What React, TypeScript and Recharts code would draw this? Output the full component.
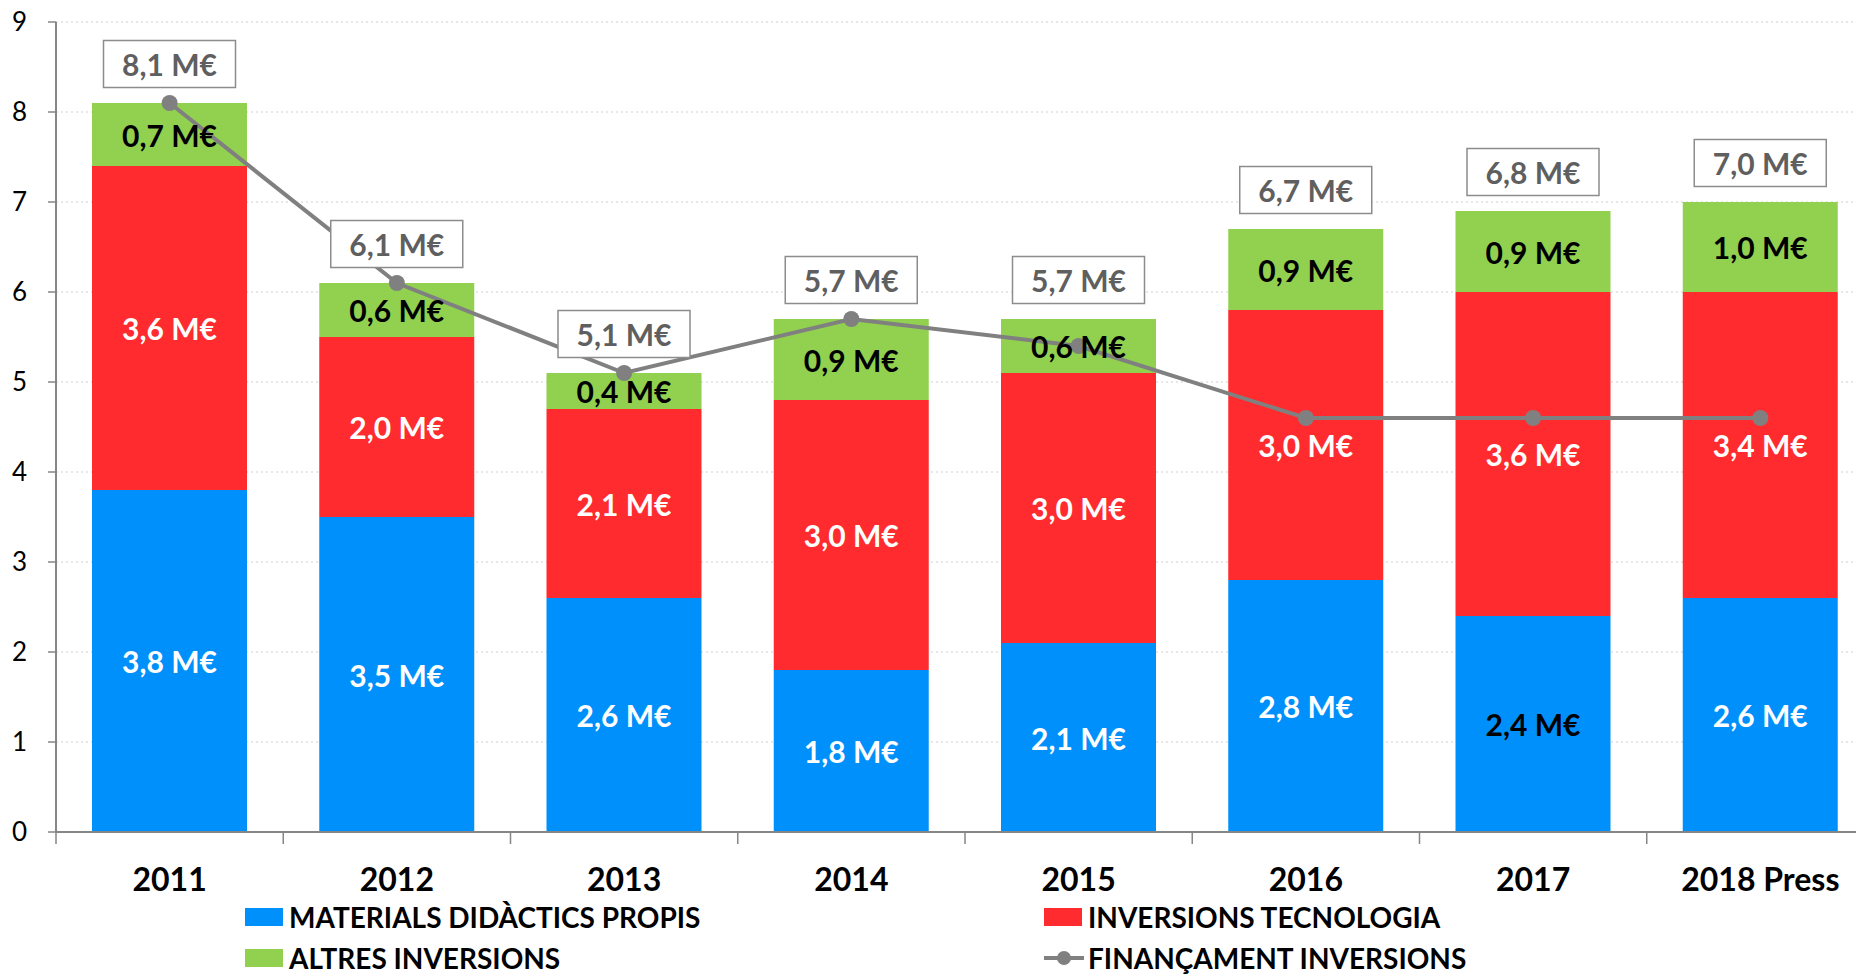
import {
  ComposedChart, Bar, Line, XAxis, YAxis, CartesianGrid, Legend, LabelList,
} from "recharts";

const years = ["2011", "2012", "2013", "2014", "2015", "2016", "2017", "2018 Press"];
const materials = [3.8, 3.5, 2.6, 1.8, 2.1, 2.8, 2.4, 2.6];
const tecnologia = [3.6, 2.0, 2.1, 3.0, 3.0, 3.0, 3.6, 3.4];
const altres = [0.7, 0.6, 0.4, 0.9, 0.6, 0.9, 0.9, 1.0];
const financament = [8.1, 6.1, 5.1, 5.7, 5.4, 4.6, 4.6, 4.6];
const totalLabels = ["8,1 M€", "6,1 M€", "5,1 M€", "5,7 M€", "5,7 M€", "6,7 M€", "6,8 M€", "7,0 M€"];
const yTicks = [0, 1, 2, 3, 4, 5, 6, 7, 8, 9];

const data = years.map((year, i) => ({
  year,
  materials: materials[i],
  tecnologia: tecnologia[i],
  altres: altres[i],
  financament: financament[i],
  total: totalLabels[i],
}));

// legend reads left-to-right, top-to-bottom in this order
const legendOrder = ["materials", "tecnologia", "altres", "financament"];

const CHART_W = 1900;
const CHART_H = 976;
const MARGIN = { top: 22, right: 26, bottom: 84, left: 0 };
const Y_AXIS_W = 56;
const BAND = (CHART_W - MARGIN.left - MARGIN.right - Y_AXIS_W) / years.length;

const FONT = "Lato, 'Open Sans', sans-serif";
const AXIS_GREY = "#868686";

const fmt = (v: number) => v.toFixed(1).replace(".", ",") + " M€";

function segmentLabel(color: string, darkIndex: number[] = []) {
  return (props: any) => {
    const { x, y, width, height, value, index } = props;
    return (
      <text
        x={x + width / 2}
        y={y + height / 2}
        textAnchor="middle"
        dominantBaseline="central"
        fontFamily={FONT}
        fontWeight={700}
        fontSize={30}
        fill={darkIndex.includes(index) ? "#000" : color}
      >
        {fmt(value)}
      </text>
    );
  };
}

function totalBox(props: any) {
  const { x, y, width, value } = props;
  const cx = x + width / 2;
  const cy = y - 39;
  const w = 132;
  const h = 47;
  return (
    <g>
      <rect x={cx - w / 2} y={cy - h / 2} width={w} height={h} fill="#fff" stroke="#8c8c8c" strokeWidth={1.5} />
      <text
        x={cx}
        y={cy}
        textAnchor="middle"
        dominantBaseline="central"
        fontFamily={FONT}
        fontWeight={700}
        fontSize={30}
        fill="#5f5f5f"
      >
        {value}
      </text>
    </g>
  );
}

function YearTick(props: any) {
  const { x, y, payload } = props;
  const bx = x - BAND / 2;
  return (
    <g>
      <line x1={bx} x2={bx} y1={y} y2={y + 12} stroke={AXIS_GREY} strokeWidth={1.5} />
      <text
        x={x}
        y={y + 46}
        textAnchor="middle"
        dominantBaseline="central"
        fontFamily={FONT}
        fontWeight={700}
        fontSize={32}
        fill="#000"
      >
        {payload.value}
      </text>
    </g>
  );
}

function LegendBlock(props: any) {
  const entries = props.payload || [];
  const cols = [245, 1044];
  return (
    <div style={{ position: "relative", width: 1856, height: 70 }}>
      {entries.map((e: any) => {
        const pos = legendOrder.indexOf(e.dataKey);
        const left = cols[pos % 2];
        const top = Math.floor(pos / 2) * 41;
        const isLine = e.type === "line";
        return (
          <div
            key={e.value}
            style={{
              position: "absolute",
              left,
              top,
              height: 28,
              display: "flex",
              alignItems: "center",
              fontFamily: FONT,
              fontWeight: 700,
              fontSize: 28,
              lineHeight: "28px",
              color: "#000",
              whiteSpace: "nowrap",
            }}
          >
            {isLine ? (
              <svg width={40} height={18} style={{ marginRight: 4 }}>
                <line x1={0} x2={40} y1={9} y2={9} stroke={e.color} strokeWidth={4} />
                <circle cx={20} cy={9} r={7} fill={e.color} />
              </svg>
            ) : (
              <span style={{ display: "inline-block", width: 38, height: 18, background: e.color, marginRight: 6 }} />
            )}
            {e.value}
          </div>
        );
      })}
    </div>
  );
}

export default function App() {
  return (
    <div style={{ position: "fixed", left: 0, top: 0, width: 1856, height: 976, overflow: "hidden", background: "#fff" }}>
      <ComposedChart width={CHART_W} height={CHART_H} data={data} margin={MARGIN} barCategoryGap={36}>
        <CartesianGrid vertical={false} stroke="#cfcfcf" strokeDasharray="2 3" />
        <XAxis
          dataKey="year"
          height={60}
          interval={0}
          axisLine={{ stroke: AXIS_GREY, strokeWidth: 2 }}
          tickLine={false}
          tickSize={0}
          tickMargin={0}
          tick={<YearTick />}
        />
        <YAxis
          width={Y_AXIS_W}
          domain={[0, 9]}
          ticks={yTicks}
          interval={0}
          axisLine={{ stroke: AXIS_GREY, strokeWidth: 2 }}
          tickLine={{ stroke: AXIS_GREY, strokeWidth: 1.5 }}
          tickSize={8}
          tickMargin={21}
          tick={{ fontFamily: FONT, fontSize: 26, fill: "#000" }}
        />
        <Legend
          layout="horizontal"
          verticalAlign="middle"
          align="center"
          wrapperStyle={{ position: "absolute", left: 0, top: 903, width: 1856, height: 70, overflow: "visible" }}
          content={<LegendBlock />}
        />
        <Bar dataKey="materials" name="MATERIALS DIDÀCTICS PROPIS" stackId="a" fill="#0090fb" isAnimationActive={false}>
          <LabelList dataKey="materials" content={segmentLabel("#fff", [6])} />
        </Bar>
        <Bar dataKey="tecnologia" name="INVERSIONS TECNOLOGIA" stackId="a" fill="#ff2b2e" isAnimationActive={false}>
          <LabelList dataKey="tecnologia" content={segmentLabel("#fff")} />
        </Bar>
        <Bar dataKey="altres" name="ALTRES INVERSIONS" stackId="a" fill="#92d050" isAnimationActive={false}>
          <LabelList dataKey="altres" content={segmentLabel("#000")} />
          <LabelList dataKey="total" content={totalBox} />
        </Bar>
        <Line
          dataKey="financament"
          name="FINANÇAMENT INVERSIONS"
          type="linear"
          stroke="#808080"
          strokeWidth={4}
          dot={{ r: 8, fill: "#808080", stroke: "none" }}
          activeDot={false}
          isAnimationActive={false}
        />
      </ComposedChart>
    </div>
  );
}
